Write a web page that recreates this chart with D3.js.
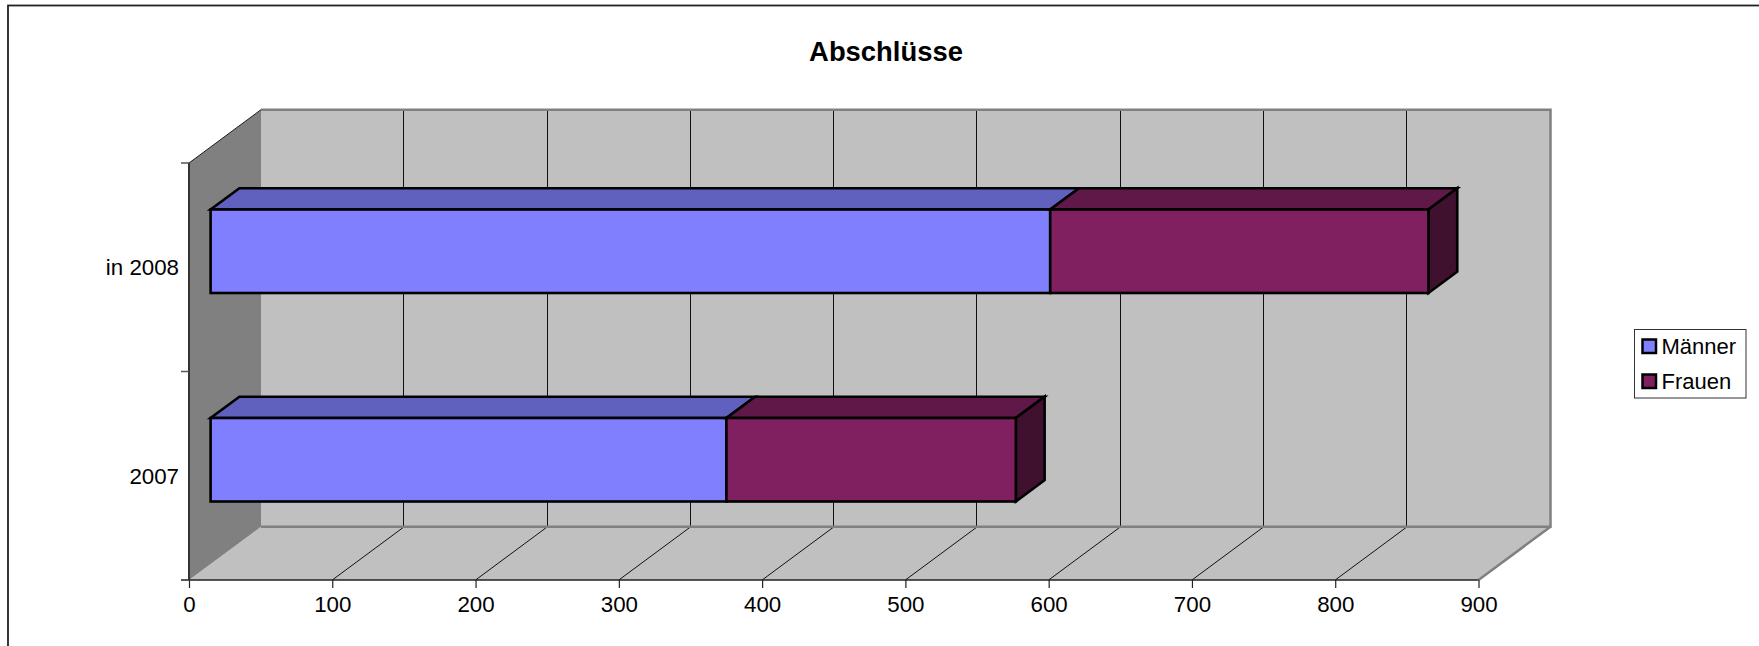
<!DOCTYPE html>
<html><head><meta charset="utf-8">
<script src="https://cdn.jsdelivr.net/npm/d3@7/dist/d3.min.js"></script>
<style>html,body{margin:0;padding:0;background:#fff}svg{display:block}text{font-family:"Liberation Sans",Arial,sans-serif;fill:#000}</style>
</head><body><svg id="c" width="1759" height="646"></svg>
<script>
const categories = ["2007", "in 2008"];
const seriesNames = ["Männer", "Frauen"];
const maenner = [360, 586];
const frauen = [202, 264];
const xTicks = [0,100,200,300,400,500,600,700,800,900];
const chartTitle = "Abschlüsse";
const colors = ["#8080ff", "#802060"];
const topColors = ["#6060bf", "#601848"];
const sideColors = ["#6060bf", "#40102f"];

const svg = d3.select("#c");
const W = 1759, H = 646;
svg.append("rect").attr("x",8).attr("y",5.5).attr("width",W+20).attr("height",H+20).attr("fill","#fff").attr("stroke","#222").attr("stroke-width",1.8);

const x = d3.scaleLinear().domain([0,900]).range([189,1478.5]);
const y = d3.scaleBand().domain(categories).range([580,163]);
const DX = 72, DY = -53.3;
const xL = x(0), xR = x(900), yB = y.range()[0], yT = y.range()[1];
const poly = pts => pts.map(p=>p.join(",")).join(" ");

// walls
svg.append("polygon").attr("points",poly([[xL+DX,yT+DY],[xR+DX,yT+DY],[xR+DX,yB+DY],[xL+DX,yB+DY]])).attr("fill","#c0c0c0");
svg.append("polygon").attr("points",poly([[xL,yB],[xR,yB],[xR+DX,yB+DY],[xL+DX,yB+DY]])).attr("fill","#c0c0c0");
svg.append("polygon").attr("points",poly([[xL,yT],[xL+DX,yT+DY],[xL+DX,yB+DY],[xL,yB]])).attr("fill","#808080");
// gridlines
const grid = xTicks.slice(1,-1);
svg.append("g").selectAll("line").data(grid).join("line")
  .attr("x1",d=>Math.round(x(d)+DX)-0.5).attr("x2",d=>Math.round(x(d)+DX)-0.5).attr("y1",yT+DY).attr("y2",yB+DY)
  .attr("stroke","#111").attr("stroke-width",1);
svg.append("g").selectAll("line").data(grid).join("line")
  .attr("x1",d=>x(d)).attr("x2",d=>x(d)+DX).attr("y1",yB).attr("y2",yB+DY)
  .attr("stroke","#111").attr("stroke-width",1);
// wall edges
svg.append("path").attr("fill","none").attr("stroke","#808080").attr("stroke-width",2.5)
  .attr("d",`M${xL+DX},${yT+DY}H${xR+DX}V${yB+DY}H${xL+DX}M${xR+DX},${yB+DY}L${xR},${yB}`);
svg.append("path").attr("fill","none").attr("stroke","#1a1a1a").attr("stroke-width",1)
  .attr("d",`M${xL},${yT}L${xL+DX},${yT+DY}`);

// bars
const T0 = 0.30, TD = 0.40;
const ox = DX*T0, oy = -16, dx = DX*TD, dy = -21.3;
const barH = 83.5;
const rows = categories.map((c,i)=>{
  const m = maenner[i], f = frauen[i];
  return [{c,s:0,a:0,b:m},{c,s:1,a:m,b:m+f}];
}).flat();
const cy = d => y(d.c)+y.bandwidth()/2+oy-barH/2;
const bars = svg.append("g").selectAll("g").data(rows).join("g")
  .attr("stroke","#000").attr("stroke-width",2.6).attr("stroke-linejoin","miter");
bars.append("polygon").attr("fill",d=>topColors[d.s]).attr("points",d=>{
  const l=x(d.a)+ox, r=x(d.b)+ox, t=cy(d);
  return poly([[l,t],[r,t],[r+dx,t+dy],[l+dx,t+dy]]);
});
bars.filter(d=>d.s===1).append("polygon").attr("fill",d=>sideColors[d.s]).attr("points",d=>{
  const r=x(d.b)+ox, t=cy(d);
  return poly([[r,t],[r+dx,t+dy],[r+dx,t+dy+barH],[r,t+barH]]);
});
bars.append("rect").attr("fill",d=>colors[d.s])
  .attr("x",d=>x(d.a)+ox).attr("y",cy).attr("width",d=>x(d.b)-x(d.a)).attr("height",barH);

// axes
const axB = svg.append("g").attr("transform",`translate(0,${yB})`)
  .call(d3.axisBottom(x).tickValues(xTicks).tickSize(8).tickPadding(8).tickFormat(d3.format("d")));
axB.selectAll("text").attr("font-size",22.3).style("font-family",'"Liberation Sans",Arial,sans-serif');
axB.select(".domain").attr("stroke","#222").attr("stroke-width",1.5).attr("d",`M${xL-8},0H${xR}`);
axB.selectAll(".tick line").attr("stroke","#222").attr("stroke-width",1.2);
const axL = svg.append("g").attr("transform",`translate(${xL},0)`)
  .call(d3.axisLeft(y).tickSize(0).tickPadding(0));
axL.select(".domain").attr("stroke","#333").attr("stroke-width",2).attr("d",`M0,${yT}V${yB}`);
axL.selectAll(".tick text").attr("x",-10).attr("dy","0.36em").attr("font-size",22.3)
  .style("font-family",'"Liberation Sans",Arial,sans-serif');
svg.append("g").selectAll("line").data([yT,(yT+yB)/2]).join("line")
  .attr("x1",xL-8).attr("x2",xL).attr("y1",d=>d).attr("y2",d=>d).attr("stroke","#555").attr("stroke-width",1.5);

// title
svg.append("text").attr("x",886).attr("y",61).attr("text-anchor","middle")
  .attr("font-size",27.4).attr("font-weight","bold").text(chartTitle);

// legend
const leg = svg.append("g");
leg.append("rect").attr("x",1634.5).attr("y",329.5).attr("width",111.5).attr("height",68.5).attr("fill","#fff").attr("stroke","#333").attr("stroke-width",1);
const li = leg.selectAll("g").data(seriesNames).join("g").attr("transform",(d,i)=>`translate(0,${i*35})`);
li.append("rect").attr("x",1642.5).attr("y",339.5).attr("width",13.5).attr("height",13.5)
  .attr("fill",(d,i)=>colors[i]).attr("stroke","#000").attr("stroke-width",2.5);
li.append("text").attr("x",1661.5).attr("y",354).attr("font-size",22).text(d=>d);
</script></body></html>
